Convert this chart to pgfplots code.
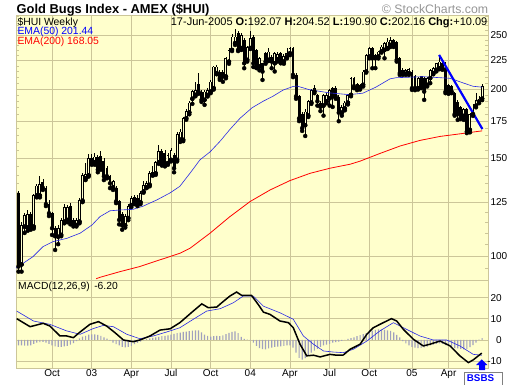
\documentclass[border=0pt]{standalone}
\usepackage{fontspec}
\setmainfont{Liberation Sans}
\usepackage{pgfplots}
\usepackage{pgfplotstable}
\pgfplotsset{compat=1.18}
\definecolor{bgy}{RGB}{255,255,204}
\definecolor{gridc}{RGB}{204,198,153}
\definecolor{emablue}{RGB}{40,40,230}
\definecolor{histc}{RGB}{160,160,190}
\definecolor{copyg}{RGB}{150,150,150}

\pgfplotstableread{
i o h l c
0 129.9 131.0 93.7 95.7
4 118.9 120.0 111.5 112.9
8 136.0 137.5 131.5 132.6
9 132.6 133.5 123.0 124.0
10 124.0 126.0 118.0 119.4
11 119.4 120.0 109.1 112.2
12 112.5 113.0 102.5 108.5
17 123.0 124.5 114.0 115.3
18 116.1 117.0 113.0 114.0
24 150.4 152.5 146.0 147.4
26 151.0 152.0 141.5 143.0
27 151.7 154.4 143.0 144.0
28 148.5 150.0 137.0 139.2
29 143.9 145.0 138.0 139.2
30 139.2 140.0 132.5 135.2
32 132.5 133.5 124.5 125.4
33 125.4 126.0 114.0 116.1
34 119.0 120.0 111.5 113.5
38 127.5 129.0 124.0 125.0
39 127.0 129.0 123.0 124.5
47 154.6 156.0 145.5 146.9
48 153.6 155.0 145.0 146.9
51 152.1 153.0 141.5 143.9
59 204.0 213.6 196.0 197.8
60 197.8 199.0 189.5 191.1
66 214.9 216.0 207.6 209.1
67 214.9 216.0 206.0 210.6
72 252.6 254.0 234.0 235.1
74 245.1 246.9 217.9 222.4
77 248.5 250.0 219.0 222.4
78 235.1 236.0 218.0 219.4
80 222.4 223.0 207.6 214.9
81 231.9 233.0 222.0 224.0
83 228.7 230.0 217.9 224.0
86 231.9 233.0 222.4 224.0
90 236.8 238.0 210.0 212.0
91 212.0 213.5 192.0 194.0
92 194.0 195.0 175.0 177.0
93 180.0 182.0 168.0 170.0
98 195.1 196.0 186.6 190.0
99 188.9 190.0 182.4 185.6
103 200.6 201.5 185.6 193.8
104 200.6 202.0 192.0 193.8
105 193.8 195.0 174.9 181.2
110 209.1 210.0 200.6 202.3
111 204.0 205.0 199.0 200.6
116 236.8 237.5 217.9 227.1
117 230.3 231.0 218.0 227.1
123 245.0 246.0 238.0 240.0
124 243.4 244.0 224.0 225.6
125 227.1 228.0 212.0 213.5
129 214.9 216.0 199.2 200.6
130 210.6 212.0 199.0 200.6
132 210.6 211.0 200.6 202.0
133 209.1 210.0 191.1 197.8
139 222.4 224.0 216.5 217.9
140 217.9 224.0 196.5 197.8
141 203.4 204.5 196.0 197.8
142 202.0 203.0 196.5 197.8
143 196.5 197.5 179.0 180.1
144 189.8 191.0 175.9 180.1
145 185.3 186.5 176.5 177.6
147 184.1 185.0 166.5 167.6
}\blackc

\pgfplotstableread{
i o h l c
1 96.5 115.3 93.7 113.7
2 112.9 119.5 110.0 118.5
3 112.5 121.0 111.0 118.9
5 112.9 129.5 112.0 128.8
6 128.5 135.0 127.5 133.9
7 128.5 139.2 127.5 134.9
13 108.3 113.5 105.0 112.2
14 109.1 117.0 108.5 116.1
15 115.3 124.0 114.5 122.5
16 116.1 123.6 115.0 122.5
19 113.7 117.0 113.0 116.1
20 115.3 127.0 114.5 126.2
21 125.7 141.0 125.0 139.8
22 138.0 146.9 137.0 140.5
23 139.8 152.5 139.0 150.0
25 147.4 153.5 146.0 151.0
31 133.0 137.0 131.5 136.3
35 113.5 119.0 112.5 118.0
36 117.0 124.0 116.0 123.0
37 123.5 128.0 122.5 127.0
40 125.0 131.0 124.0 130.0
41 130.6 136.3 130.0 134.3
42 133.0 136.5 132.5 135.3
43 134.3 142.0 133.5 140.9
44 140.0 145.5 139.5 141.8
45 140.9 148.5 140.0 147.4
46 147.4 158.3 146.5 154.6
49 147.0 153.0 146.0 152.0
50 149.0 156.5 148.0 155.3
52 149.0 167.5 148.0 166.0
53 162.0 169.0 160.5 167.5
54 161.9 178.0 161.0 177.1
55 177.1 184.0 176.0 182.6
56 181.4 190.0 180.0 189.0
57 192.0 199.5 188.0 198.4
58 195.1 206.0 194.0 199.2
61 191.1 199.0 187.2 197.8
62 195.0 200.6 193.8 199.2
63 197.8 207.5 196.5 206.2
64 200.6 220.0 199.5 219.4
65 213.5 221.0 212.5 219.4
68 210.6 228.0 209.0 227.1
69 224.0 236.8 222.0 235.1
70 235.1 251.0 234.0 248.5
71 241.8 256.8 240.0 248.5
73 237.0 252.0 235.0 250.0
75 225.6 239.0 224.0 237.5
76 237.0 254.4 236.0 246.9
79 219.4 228.0 216.0 227.1
82 225.6 236.8 224.5 233.5
84 222.4 233.0 215.0 231.9
85 226.0 233.0 224.0 231.0
87 224.0 231.0 222.0 229.0
88 228.7 236.8 227.0 231.9
89 231.9 238.0 230.0 236.8
94 172.0 184.0 164.5 182.0
95 179.0 191.0 178.0 190.0
96 188.9 200.0 188.0 199.2
97 197.8 203.4 196.5 200.6
100 186.6 196.0 179.0 195.1
101 190.0 196.5 188.5 195.1
102 192.4 200.0 186.6 199.2
106 181.2 187.0 179.0 185.6
107 184.4 190.0 183.0 188.9
108 188.9 196.0 187.5 195.1
109 195.1 210.0 194.0 209.1
112 200.6 204.0 199.5 203.4
113 203.4 216.0 202.0 214.9
114 214.9 231.5 214.0 230.3
115 228.7 238.0 227.0 236.8
118 228.7 234.0 227.0 233.5
119 233.5 239.5 232.5 238.4
120 235.1 242.5 227.1 241.8
121 236.8 246.9 236.0 243.4
122 240.0 248.5 238.0 245.0
126 213.5 218.0 212.0 216.4
127 213.0 217.5 212.0 216.4
128 213.5 218.0 212.0 216.8
131 200.6 210.0 199.5 209.1
134 203.4 210.0 202.0 209.1
135 209.1 217.0 204.8 216.4
136 213.5 219.0 212.5 217.9
137 216.4 223.0 215.0 222.4
138 217.9 228.7 217.0 224.0
146 178.8 185.0 175.9 184.1
148 168.7 181.0 167.0 180.1
149 180.1 188.0 178.8 186.6
150 186.6 196.5 185.3 191.1
151 189.8 194.0 188.5 192.07
152 192.07 204.52 190.90 202.16
}\hollowc

\pgfplotstableread{
i v
0 -2.5
1 -2.6
2 -2.7
3 -2.7
4 -2.5
5 -1.8
6 -1.2
7 -1.0
8 -0.9
9 -1.3
10 -1.8
11 -2.5
12 -3.0
13 -3.2
14 -3.2
15 -3.0
16 -2.8
17 -2.2
18 -1.5
19 -0.5
20 0.8
21 1.6
22 2.0
23 2.5
24 2.7
25 2.7
26 2.4
27 2.0
28 1.3
29 0.6
30 -0.3
31 -1.2
32 -2.0
33 -2.6
34 -3.2
35 -3.5
36 -3.3
37 -2.8
38 -2.0
39 -1.4
40 -0.8
41 -0.2
42 0.4
43 0.8
44 1.0
45 1.2
46 1.5
47 1.8
48 2.0
49 2.2
50 2.5
51 2.9
52 3.2
53 3.5
54 3.8
55 4.0
56 4.2
57 4.4
58 4.6
59 4.5
60 3.6
61 2.6
62 2.0
63 1.6
64 1.8
65 1.9
66 1.8
67 2.2
68 2.8
69 3.4
70 3.9
71 4.1
72 3.2
73 1.5
74 0.5
75 0.2
76 -0.2
77 -1.2
78 -2.8
79 -3.8
80 -4.3
81 -4.4
82 -4.0
83 -3.6
84 -3.3
85 -3.1
86 -3.0
87 -2.8
88 -2.6
89 -2.6
90 -3.6
91 -6.0
92 -8.5
93 -9.3
94 -8.6
95 -7.2
96 -6.0
97 -5.0
98 -4.2
99 -3.2
100 -2.6
101 -2.2
102 -1.8
103 -1.3
104 -1.0
105 -0.8
106 -0.4
107 -0.1
108 0.5
109 0.9
110 1.3
111 1.8
112 2.3
113 2.8
114 3.3
115 3.9
116 4.4
117 4.8
118 5.0
119 5.0
120 4.8
121 4.6
122 4.3
123 3.6
124 2.4
125 1.2
126 -0.5
127 -1.6
128 -2.6
129 -3.2
130 -3.6
131 -3.8
132 -3.7
133 -3.5
134 -3.1
135 -2.6
136 -2.2
137 -1.8
138 -1.6
139 -1.8
140 -2.4
141 -2.9
142 -3.4
143 -3.8
144 -4.0
145 -4.2
146 -4.4
147 -4.2
148 -3.4
149 -2.4
150 -1.2
151 0.2
152 0.9
}\histt

\pgfplotsset{
  panel/.style={
    scale only axis, width=472pt,
    xmin=-0.82, xmax=153.93,
    axis background/.style={fill=bgy},
    axis line style={draw=gridc, line width=0.8pt},
    xtick={11,24,37,50,63,76,89,102,115,129,141},
    grid=major, major grid style={draw=gridc, line width=0.8pt},
    yticklabel pos=right,
    major tick length=0pt, minor tick length=3pt,
    tick align=inside,
    minor tick style={draw=gridc, line width=0.6pt},
    tick label style={font=\fontsize{10}{12}\selectfont},
    /pgf/number format/assume math mode=true,
  },
  wick/.style={only marks, mark=none, forget plot,
    error bars/.cd, y dir=plus, y explicit, error mark=none,
    error bar style={draw=black, line width=0.8pt}},
  body/.style={only marks, mark=none, forget plot,
    error bars/.cd, y dir=plus, y explicit, error mark=none,
    error bar style={draw=black, line width=2.9pt}},
  inner/.style={only marks, mark=none, forget plot,
    error bars/.cd, y dir=plus, y explicit, error mark=none,
    error bar style={draw=bgy, line width=1.0pt, shorten <=0.8pt, shorten >=0.8pt}},
}

\begin{document}
\begin{tikzpicture}[x=1pt,y=1pt]
\useasboundingbox (0,0) rectangle (520,384);

\begin{axis}[panel, at={(16pt,104pt)}, anchor=south west, height=264.3pt,
  ymode=log, ymin=90.5, ymax=271,
  xticklabels={},
  ytick={100,125,150,175,200,225,250},
  yticklabels={100,125,150,175,200,225,250},
  minor ytick={95,105,110,115,120,130,135,140,145,155,160,165,170,180,185,190,195,205,210,215,220,230,235,240,245,255,260,265,270},
  yticklabel style={anchor=east, inner sep=0pt, xshift=19.5pt},
]
\addplot[wick] table[x=i, y=l, y error expr=\thisrow{h}-\thisrow{l}] {\blackc};
\addplot[wick] table[x=i, y=l, y error expr=\thisrow{h}-\thisrow{l}] {\hollowc};
\addplot[body] table[x=i, y=c, y error expr=\thisrow{o}-\thisrow{c}] {\blackc};
\addplot[body] table[x=i, y=o, y error expr=\thisrow{c}-\thisrow{o}] {\hollowc};
\addplot[inner] table[x=i, y=o, y error expr=\thisrow{c}-\thisrow{o}] {\hollowc};
% EMA 200
\addplot[red, line width=0.8pt] coordinates {
(25.5,91.0) (26.7,91.5) (33.3,93.7) (39.8,95.7) (46.4,98.4) (52.9,101.1)
(56.2,103.2) (62.8,109.9) (69.3,117.7) (75.9,125.3) (82.5,131.5) (89.0,136.7)
(95.6,140.9) (102.1,143.9) (108.7,146.3) (112.0,148.2) (118.5,153.0) (125.1,157.8)
(131.6,161.5) (138.2,164.2) (144.8,166.0) (152.0,168.05)};
% EMA 50
\addplot[emablue, line width=0.6pt] coordinates {
(-0.8,95.1) (4.75,99.7) (8.0,103.9) (11.3,106.1) (15.9,107.6) (20.2,109.9)
(24.1,113.7) (26.7,117.7) (30.0,120.6) (33.3,121.0) (37.5,121.3) (40.8,122.9)
(45.4,126.2) (49.7,129.9) (52.9,133.5) (56.2,140.9) (59.5,149.0) (62.8,154)
(66.1,161) (69.3,169) (72.6,177) (76.6,185) (80.2,190) (83.4,194) (86.7,199)
(90.0,202) (91.3,202.4) (95.2,199.5) (101.8,196.8) (108.4,195.3) (112.9,196.5)
(117.2,201.5) (121.8,208.5) (123.8,209.5) (132.6,210.4) (141.5,209) (145.8,205)
(149.0,202.2) (152.0,201.44)};
% trendline
\addplot[blue, line width=2.2pt] coordinates {(137.9,230.3) (152.1,169.3)};
\end{axis}

\begin{axis}[panel, at={(16pt,15.7pt)}, anchor=south west, height=88.3pt,
  ymin=-13.4, ymax=28.4,
  ytick={-10,0,10,20},
  xticklabels={Oct,03,Apr,Jul,Oct,04,Apr,Jul,Oct,05,Apr},
  yticklabel style={anchor=east, inner sep=0pt, xshift=14pt},
  xticklabel style={anchor=base, inner sep=0pt, yshift=-7.8pt},
]
\addplot[ybar, bar width=1.2pt, fill=histc, draw=none] table[x=i, y=v] {\histt};
\addplot[emablue, line width=0.6pt] coordinates {
(-0.6,13.7) (4.9,9.0) (10.3,7.4) (15.8,4.3) (20.2,2.7) (24.5,5.4) (27.8,6.9)
(31.1,6.3) (35.5,2.7) (39.8,0.6) (44.2,1.9) (48.6,3.8) (52.9,5.8) (57.3,9.8)
(61.7,13.7) (66.1,14.8) (70.4,17.6) (73.7,20.8) (77.0,20.8) (80.3,16.0)
(85.7,12.9) (90.1,9.8) (93.4,1.9) (96.7,-2.0) (100.0,-5.2) (103.2,-5.7)
(106.5,-6.0) (109.8,-4.4) (114.2,-0.5) (118.5,4.3) (122.9,8.2) (127.3,5.0)
(131.6,1.9) (136.0,0) (140.4,0) (144.7,-2.8) (149.1,-6.8) (151.9,-7.2)};
\addplot[black, line width=1.5pt] coordinates {
(-0.6,10.1) (3.8,6.3) (8.1,7.9) (10.3,6.6) (13.6,1.9) (15.8,1.9) (18.0,1.1)
(20.2,3.8) (23.4,7.4) (26.2,8.7) (28.9,6.6) (31.6,3.5) (34.4,0) (37.6,-0.8)
(39.8,0) (43.1,1.9) (46.4,4.7) (49.7,5.3) (52.9,8.2) (57.3,13.7) (60.1,17.1)
(62.2,15.3) (65.0,15.6) (66.6,17.6) (69.3,20.8) (71.5,22.7) (73.2,21.1)
(76.4,21.1) (78.6,16.8) (80.3,13.2) (82.5,12.1) (85.7,9.0) (88.5,8.2)
(90.1,5.8) (92.3,-2.0) (94.5,-7.5) (96.7,-7.2) (98.9,-8.0) (102.1,-6.8)
(104.3,-7.2) (106.5,-7.1) (108.7,-4.4) (112.0,-2.0) (114.2,2.7) (116.3,5.8)
(119.6,8.2) (122.3,10.1) (124.0,9.0) (126.2,5.0) (129.5,0.3) (132.7,-2.8)
(134.9,-2.0) (138.2,-0.5) (141.5,-2.8) (144.7,-7.5) (147.5,-10.7) (149.1,-9.4)
(151.9,-6.2)};
\end{axis}

% texts
\node[anchor=base west, inner sep=0pt, font=\bfseries\fontsize{12.9}{14}\selectfont] at (16.5,370.7) {Gold Bugs Index - AMEX (\$HUI)};
\node[anchor=base east, inner sep=0pt, text=copyg, font=\fontsize{12.3}{14}\selectfont] at (488.3,370.7) {© StockCharts.com};
\node[anchor=base east, inner sep=0pt, font=\fontsize{11}{13}\selectfont] at (487.5,358) {17-Jun-2005 \textbf{O:}192.07 \textbf{H:}204.52 \textbf{L:}190.90 \textbf{C:}202.16 \textbf{Chg:}+10.09};
\node[anchor=base west, inner sep=0pt, font=\fontsize{10.4}{12}\selectfont] at (17.3,359) {\$HUI Weekly};
\node[anchor=base west, inner sep=0pt, text=blue, font=\fontsize{10.4}{12}\selectfont] at (17.3,349) {EMA(50) 201.44};
\node[anchor=base west, inner sep=0pt, text=red, font=\fontsize{10.4}{12}\selectfont] at (17.3,339) {EMA(200) 168.05};
\node[anchor=base west, inner sep=0pt, font=\fontsize{10.3}{12}\selectfont] at (18,95) {MACD(12,26,9)\, -6.20};
% BSBS marker
\fill[blue] (481.7,24.7) -- (487.3,19) -- (485,19) -- (485,14) -- (479,14) -- (479,19) -- (476,19) -- cycle;
\draw[fill=white, draw=gray] (464.3,12.3) rectangle (501.7,-2);
\node[anchor=base, inner sep=0pt, text=blue, font=\bfseries\fontsize{9.8}{11}\selectfont] at (480.5,2.6) {BSBS};
\end{tikzpicture}
\end{document}
